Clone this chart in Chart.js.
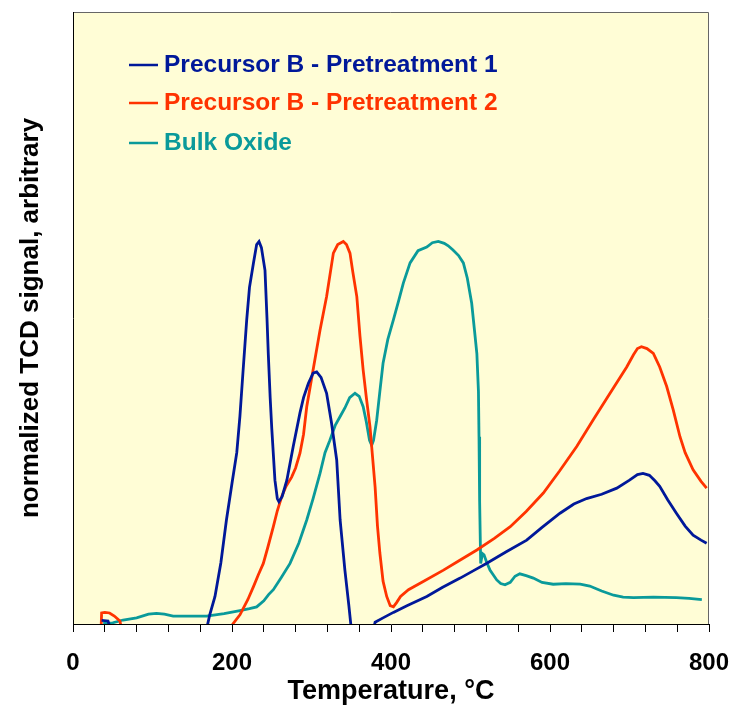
<!DOCTYPE html>
<html>
<head>
<meta charset="utf-8">
<script src="https://cdn.jsdelivr.net/npm/chart.js@4.4.1/dist/chart.umd.min.js"></script>
<style>
  html, body { margin: 0; padding: 0; background: #fff; }
  canvas { display: block; }
</style>
</head>
<body>
<canvas id="tpr" width="732" height="706"></canvas>
<script>
// TPR traces: temperature (°C) and normalized signal (0..100)
// values below 0 sit under the axis and get clipped, as in the original
const tempPre1 = [36, 44, 50, 166, 172, 178.6, 186, 193, 200, 206, 210, 214, 218.5, 222, 227, 231, 234, 237, 241.5, 244, 245.7, 248, 250, 254, 257, 259, 263, 269, 277, 285.5, 290, 296, 302, 306.5, 312, 319, 325, 331.7, 336, 342, 347, 351, 376, 380, 390, 403, 420, 445, 465, 487, 505, 520, 545, 570.7, 590, 612.6, 630, 646, 665, 684, 700, 710, 717, 725, 732, 738, 748, 759, 770, 780, 790, 797];
const sigPre1 = [0.6, 0.5, -2, -2, 1.5, 4.5, 10, 17, 23, 28, 34, 41.5, 49.7, 55, 59, 62, 62.5, 61.5, 57.8, 50, 44, 37, 32, 23.5, 20.5, 20, 20.8, 23.5, 29, 34.5, 37, 39.3, 41, 41.2, 40.3, 37.7, 33, 26.8, 17, 8.8, 3, -2, -2, 0.3, 1, 1.9, 3, 4.5, 6, 7.5, 8.8, 9.9, 11.8, 13.7, 15.8, 18.1, 19.6, 20.5, 21.2, 22.2, 23.5, 24.4, 24.6, 24.3, 23.4, 22.5, 20.3, 18.1, 16, 14.5, 13.7, 13.2];

const tempPre2 = [35, 36, 40, 46, 52, 59, 63, 198, 201, 210, 220, 227, 233, 239.4, 245, 252, 257, 262.5, 268, 275, 280, 285.5, 290, 294, 302, 310.7, 319, 327.5, 333, 340, 344, 348.4, 352, 357, 361, 365, 369, 373.6, 377, 380, 383, 386, 390, 394.6, 399, 403, 407, 412, 422, 440, 466, 485, 508, 530, 550, 570, 591.6, 612, 633.6, 655, 675.5, 696.5, 705, 710, 715, 722, 730, 738, 746.8, 755, 763.5, 770, 780, 790, 797];
const sigPre2 = [-2, 1.8, 1.9, 1.8, 1.3, 0.5, -2, -2, 0, 1.5, 4, 6.1, 8, 9.9, 12.5, 15.9, 18.5, 20.8, 22.5, 24, 25.5, 27.9, 31, 35.5, 41.5, 48, 53.5, 60.6, 62, 62.5, 62, 60.6, 57.5, 53.5, 47, 41.5, 37, 32.2, 27, 22.4, 16, 11.6, 7, 4.5, 3, 2.8, 3.5, 4.5, 5.6, 6.9, 8.8, 10.3, 12.1, 14, 15.9, 18.4, 21.4, 25, 29, 33.5, 37.7, 42, 44, 45, 45.3, 45, 44.2, 42, 38.8, 35, 30.6, 28, 25.2, 23.3, 22.2];

const tempBulk = [38, 50, 63, 80, 95, 105, 115, 126, 145, 168, 190, 210, 222, 231, 240, 246, 252, 262, 273, 284, 294, 302, 310.7, 317, 323, 330, 336, 342, 348, 354.7, 360, 365, 369, 373, 375.7, 378, 382, 386, 390, 396, 403, 410, 415.5, 424, 434, 445, 452, 459.5, 467, 472, 478, 485, 491, 496, 501.5, 505, 508, 510, 510.7, 511.5, 512.8, 515, 517, 520, 524.5, 533, 538, 543.4, 550, 556, 562, 570, 579, 590, 604, 620, 638, 650, 665, 680, 692, 705, 730, 759, 775, 791];
const sigBulk = [0.1, 0.2, 0.65, 1, 1.6, 1.75, 1.6, 1.3, 1.3, 1.3, 1.7, 2.2, 2.5, 2.8, 3.8, 4.8, 5.6, 7.6, 9.9, 13.2, 17, 20.5, 24.6, 28, 30, 32.5, 33.9, 35.3, 37, 37.7, 37.2, 35.5, 33, 30, 29.2, 30, 33.3, 38, 42.6, 46.5, 49.7, 53, 55.7, 59, 61, 61.6, 62.3, 62.5, 62.2, 61.8, 61.1, 60.2, 59, 56.5, 52.4, 48, 44.2, 38, 30.6, 20, 9.9, 11.5, 11.3, 10.2, 8.8, 7.2, 6.6, 6.4, 6.8, 7.8, 8.2, 7.9, 7.5, 6.8, 6.5, 6.6, 6.5, 6.2, 5.4, 4.7, 4.4, 4.3, 4.4, 4.3, 4.2, 4.0];

const xTickLabels = [0, 200, 400, 600, 800];

function toPoints(xs, ys) {
  return xs.map((x, i) => ({ x: x, y: ys[i] }));
}

// yellow plot background + thin frame around the plot
const plotFrame = {
  id: 'plotFrame',
  beforeDraw(chart) {
    const { ctx, chartArea: a } = chart;
    ctx.save();
    ctx.fillStyle = '#FFFDD6';
    ctx.fillRect(a.left, a.top, a.right - a.left, a.bottom - a.top);
    ctx.strokeStyle = '#666';
    ctx.lineWidth = 1;
    ctx.beginPath();
    ctx.moveTo(a.left, a.top + 0.5);
    ctx.lineTo(a.right - 0.5, a.top + 0.5);
    ctx.lineTo(a.right - 0.5, a.bottom);
    ctx.stroke();
    ctx.restore();
  }
};

// legend drawn inside the plot, text in series colour
const insideLegend = {
  id: 'insideLegend',
  afterDatasetsDraw(chart) {
    const ctx = chart.ctx;
    const rows = [65, 103, 143];
    ctx.save();
    ctx.font = 'bold 24.5px "Liberation Sans", Arial, sans-serif';
    ctx.textBaseline = 'middle';
    chart.data.datasets.forEach((ds, i) => {
      const y = rows[i];
      ctx.strokeStyle = ds.borderColor;
      ctx.lineWidth = 2.5;
      ctx.beginPath();
      ctx.moveTo(129, y);
      ctx.lineTo(158, y);
      ctx.stroke();
      ctx.fillStyle = ds.borderColor;
      ctx.fillText(ds.label, 164, y);
    });
    ctx.restore();
  }
};

const ctx = document.getElementById('tpr').getContext('2d');
new Chart(ctx, {
  type: 'line',
  data: {
    datasets: [
      {
        label: 'Precursor B - Pretreatment 1',
        data: toPoints(tempPre1, sigPre1),
        borderColor: '#001899',
        borderWidth: 2.8,
        pointRadius: 0,
        clip: 0,
        fill: false
      },
      {
        label: 'Precursor B - Pretreatment 2',
        data: toPoints(tempPre2, sigPre2),
        borderColor: '#FF3300',
        borderWidth: 2.8,
        pointRadius: 0,
        clip: 0,
        fill: false
      },
      {
        label: 'Bulk Oxide',
        data: toPoints(tempBulk, sigBulk),
        borderColor: '#0A9A9A',
        borderWidth: 2.8,
        pointRadius: 0,
        clip: 0,
        fill: false
      }
    ]
  },
  options: {
    responsive: false,
    animation: false,
    layout: { padding: { top: 12, right: 23, left: 0, bottom: 0 } },
    plugins: {
      legend: { display: false },
      tooltip: { enabled: false }
    },
    scales: {
      x: {
        type: 'linear',
        min: 0,
        max: 800,
        afterFit: function(scale) {
          scale.height = 82;
          scale.paddingLeft = 0;
          scale.paddingRight = 0;
        },
        grid: { display: true, drawOnChartArea: false, drawTicks: true, tickLength: 8, color: '#000' },
        border: { display: true, color: '#000', width: 1 },
        ticks: {
          stepSize: 40,
          autoSkip: false,
          maxRotation: 0,
          padding: 17,
          color: '#000',
          font: { family: '"Liberation Sans", Arial, sans-serif', size: 24, weight: 'bold' },
          callback: function(value) {
            return xTickLabels.includes(value) ? String(value) : '';
          }
        },
        title: {
          display: true,
          text: 'Temperature, °C',
          color: '#000',
          padding: { top: 0, bottom: -2 },
          font: { family: '"Liberation Sans", Arial, sans-serif', size: 27, weight: 'bold' }
        }
      },
      y: {
        min: 0,
        max: 100,
        afterFit: function(scale) { scale.width = 73; },
        grid: { display: false },
        border: { display: true, color: '#000', width: 1 },
        ticks: { display: false },
        title: {
          display: true,
          text: 'normalized TCD signal, arbitrary',
          color: '#000',
          padding: { top: 15, bottom: 0 },
          font: { family: '"Liberation Sans", Arial, sans-serif', size: 26, weight: 'bold' }
        }
      }
    }
  },
  plugins: [plotFrame, insideLegend]
});
</script>
</body>
</html>
